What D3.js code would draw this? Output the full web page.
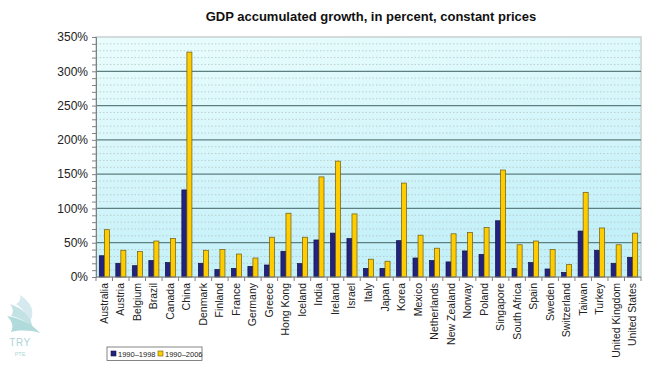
<!DOCTYPE html>
<html>
<head>
<meta charset="utf-8">
<script src="https://cdn.jsdelivr.net/npm/d3@7"></script>
<style>
  body { margin: 0; background: #fff; }
  svg { display: block; font-family: "Liberation Sans", Arial, sans-serif; }
</style>
</head>
<body>
<svg id="chart" width="653" height="369"></svg>
<script>
// Data
const countries = ['Australia', 'Austria', 'Belgium', 'Brazil', 'Canada', 'China', 'Denmark', 'Finland',
  'France', 'Germany', 'Greece', 'Hong Kong', 'Iceland', 'India', 'Ireland', 'Israel', 'Italy', 'Japan',
  'Korea', 'Mexico', 'Netherlands', 'New Zealand', 'Norway', 'Poland', 'Singapore', 'South Africa',
  'Spain', 'Sweden', 'Switzerland', 'Taiwan', 'Turkey', 'United Kingdom', 'United States'];
const growth9098 = [31, 20, 16.5, 24, 21, 127, 20, 11, 12.6, 15.5, 17.5, 37.5, 19.5, 54, 64, 56, 12.6, 12.6,
  53, 27.7, 24, 22, 38, 33, 82, 12.6, 21, 11.7, 6.8, 67, 39, 20, 28.7];
const growth9006 = [69, 39, 37, 52.5, 56, 328, 39, 40, 33.5, 27.7, 58, 93, 58, 146, 169, 92, 26, 23,
  137, 61, 42, 63, 65, 72, 156, 47, 52.5, 40, 18, 123.5, 71.5, 47, 64];
const seriesNames = ['1990\u20131998', '1990\u20132006'];
const seriesColors = ['#23237f', '#ffcc00'];
const yTicks = [0, 50, 100, 150, 200, 250, 300, 350];

const svg = d3.select('#chart');
const plotLeft = 96, plotRight = 641, plotTop = 37, plotBottom = 277;

const x = d3.scaleBand().domain(countries).range([plotLeft, plotRight]).paddingInner(0.39).paddingOuter(0.2);
const xs = d3.scaleBand().domain([0, 1]).range([0, x.bandwidth()]);
const y = d3.scaleLinear().domain([0, 350]).range([plotBottom, plotTop]);

// Background gradient
const defs = svg.append('defs');
const grad = defs.append('linearGradient').attr('id', 'bg').attr('x1', 0).attr('y1', 0).attr('x2', 0.3).attr('y2', 1);
grad.append('stop').attr('offset', '0%').attr('stop-color', '#eafdfd');
grad.append('stop').attr('offset', '100%').attr('stop-color', '#c3f0f9');

svg.append('rect')
  .attr('x', plotLeft).attr('y', plotTop)
  .attr('width', plotRight - plotLeft).attr('height', plotBottom - plotTop)
  .attr('fill', 'url(#bg)')
  .attr('stroke', '#c8d0d0').attr('stroke-width', 1.5);

// Minor dotted gridlines every 10%
const minor = d3.range(10, 351, 10).filter(v => v % 50 !== 0);
svg.append('g').selectAll('line').data(minor).join('line')
  .attr('x1', plotLeft).attr('x2', plotRight)
  .attr('y1', d => y(d)).attr('y2', d => y(d))
  .attr('stroke', '#b4c4c4').attr('stroke-width', 0.8).attr('stroke-dasharray', '1.5 2');

// Major gridlines
svg.append('g').selectAll('line').data(yTicks.filter(v => v > 0 && v < 350)).join('line')
  .attr('x1', plotLeft).attr('x2', plotRight)
  .attr('y1', d => y(d)).attr('y2', d => y(d))
  .attr('stroke', '#5e7f7f').attr('stroke-width', 1.2);

// Bars
const series = [growth9098, growth9006];
series.forEach((vals, si) => {
  svg.append('g').selectAll('rect').data(countries).join('rect')
    .attr('x', d => x(d) + xs(si))
    .attr('y', (d, i) => y(vals[i]))
    .attr('width', xs.bandwidth())
    .attr('height', (d, i) => y(0) - y(vals[i]))
    .attr('fill', seriesColors[si])
    .attr('stroke', si === 0 ? '#111144' : '#6b5a10')
    .attr('stroke-width', 0.7);
});

// Y axis
const yAxis = d3.axisLeft(y).tickValues(d3.range(0, 351, 10)).tickSize(4).tickFormat(d => d % 50 === 0 ? d + '%' : '');
const yg = svg.append('g').attr('transform', `translate(${plotLeft},0)`).call(yAxis);
yg.select('.domain').attr('stroke', '#808080');
yg.selectAll('.tick line').attr('stroke', '#808080');
yg.selectAll('text').attr('font-size', 12).attr('fill', '#222').attr('x', -8);

// X axis
const bounds = d3.range(countries.length + 1).map(i => plotLeft + i * ((plotRight - plotLeft) / countries.length));
svg.append('line').attr('x1', plotLeft).attr('x2', plotRight).attr('y1', plotBottom).attr('y2', plotBottom)
  .attr('stroke', '#808080');
svg.append('g').selectAll('line').data(bounds).join('line')
  .attr('x1', d => d).attr('x2', d => d).attr('y1', plotBottom).attr('y2', plotBottom + 4)
  .attr('stroke', '#808080');
svg.append('g').selectAll('text').data(countries).join('text')
  .attr('transform', d => `translate(${x(d) + x.bandwidth() / 2 + 3.5},${plotBottom + 6}) rotate(-90)`)
  .attr('text-anchor', 'end')
  .attr('font-size', 10.5).attr('fill', '#222')
  .text(d => d);

// Title
svg.append('text')
  .attr('x', 371).attr('y', 21)
  .attr('text-anchor', 'middle')
  .attr('font-size', 13).attr('font-weight', 'bold').attr('fill', '#111')
  .text('GDP accumulated growth, in percent, constant prices');

// Legend
const lg = svg.append('g');
lg.append('rect').attr('x', 107).attr('y', 347).attr('width', 95).attr('height', 13.5)
  .attr('fill', '#fff').attr('stroke', '#666').attr('stroke-width', 0.8);
seriesNames.forEach((name, i) => {
  const lx = 111 + i * 47;
  lg.append('rect').attr('x', lx).attr('y', 351).attr('width', 5).attr('height', 5)
    .attr('fill', seriesColors[i]).attr('stroke', i === 0 ? '#111144' : '#6b5a10').attr('stroke-width', 0.6);
  lg.append('text').attr('x', lx + 7).attr('y', 357).attr('font-size', 7.5).attr('fill', '#222').text(name);
});

// Watermark logo
const logo = svg.append('g').attr('opacity', 0.85);
logo.append('path').attr('d', 'M20,295 C30,302 36,310 30,322 C27,314 22,308 16,304 C20,302 21,299 20,295 Z').attr('fill', '#cfe6ec');
logo.append('path').attr('d', 'M10,304 C22,308 32,316 33,330 C28,322 20,318 11,316 C14,312 13,308 10,304 Z').attr('fill', '#b9dde0');
logo.append('path').attr('d', 'M7,316 C20,318 32,324 40,333 C30,330 20,330 11,332 C14,326 12,321 7,316 Z').attr('fill', '#a4d4d4');
logo.append('text').attr('x', 20).attr('y', 346).attr('text-anchor', 'middle')
  .attr('font-size', 10).attr('fill', '#9fcfd0').attr('letter-spacing', 0.5).text('TRY');
logo.append('text').attr('x', 20).attr('y', 356).attr('text-anchor', 'middle')
  .attr('font-size', 5.5).attr('fill', '#9fcfd0').text('PTE');
</script>
</body>
</html>
